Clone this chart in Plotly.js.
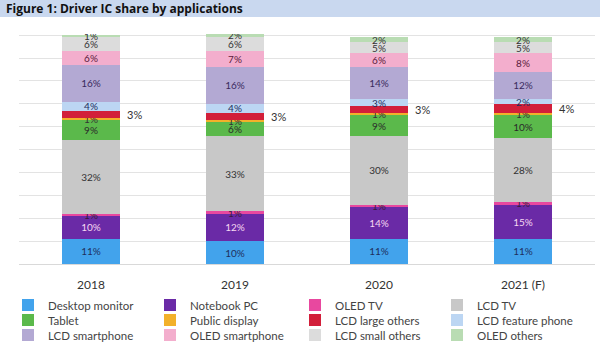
<!DOCTYPE html>
<html>
<head>
<meta charset="utf-8">
<script src="https://cdn.plot.ly/plotly-3.0.1.min.js"></script>
<style>html,body{margin:0;padding:0;background:#fff;}#chart{width:600px;height:351px;}</style>
</head>
<body>
<div id="chart"></div>
<script>
const years = ['2018', '2019', '2020', '2021 (F)'];
const seriesNames = ['Desktop monitor', 'Notebook PC', 'OLED TV', 'LCD TV',
  'Tablet', 'Public display', 'LCD large others', 'LCD feature phone',
  'LCD smartphone', 'OLED smartphone', 'LCD small others', 'OLED others'];
const desktopMonitor   = [11, 10, 11, 11];
const notebookPC       = [10, 12, 14, 15];
const oledTV           = [1, 1, 1, 1];
const lcdTV            = [32, 33, 30, 28];
const tablet           = [9, 6, 9, 10];
const publicDisplay    = [1, 1, 1, 1];
const lcdLargeOthers   = [3, 3, 3, 4];
const lcdFeaturePhone  = [4, 4, 3, 2];
const lcdSmartphone    = [16, 16, 14, 12];
const oledSmartphone   = [6, 7, 6, 8];
const lcdSmallOthers   = [6, 6, 5, 5];
const oledOthers       = [1, 2, 2, 2];

const seriesValues = [desktopMonitor, notebookPC, oledTV, lcdTV, tablet, publicDisplay,
  lcdLargeOthers, lcdFeaturePhone, lcdSmartphone, oledSmartphone, lcdSmallOthers, oledOthers];
const colors = ['#42a3ec', '#6a2aa6', '#e8489f', '#c8c8c8', '#5bb94b', '#f2b12a',
  '#d21f3a', '#bcd6f3', '#b3a9d3', '#f3aecd', '#dcdcdc', '#b9dcb3'];
const textColors = ['#1f2f5e', '#f6d8f2', '#3a1a3a', '#333333', '#2a2a2a', '#333333',
  '#333333', '#1f2f5e', '#3a2a5e', '#5a1a3a', '#333333', '#333333'];

const FONT = 'Lato, "Open Sans", sans-serif';
const legendIds = seriesNames.map((n, i) => i === 0 ? 'legend' : 'legend' + (i + 1));

const traces = seriesValues.map((vals, i) => ({
  type: 'bar',
  name: seriesNames[i],
  x: years,
  y: vals,
  marker: {color: colors[i], line: {width: 0}},
  text: i === 6 ? vals.map(() => '') : vals.map(v => v + '%'),
  textposition: 'inside',
  insidetextanchor: 'middle',
  constraintext: 'none',
  textangle: 0,
  textfont: {family: FONT, size: 10, color: textColors[i]},
  hoverinfo: 'skip',
  legend: legendIds[i],
  showlegend: true
}));

// outside labels for LCD large others (x given as category index)
const annotations = years.map((yr, j) => {
  let base = 0;
  for (let k = 0; k < 6; k++) base += seriesValues[k][j];
  return {
    x: j, y: base + lcdLargeOthers[j] / 2, xref: 'x', yref: 'y',
    text: lcdLargeOthers[j] + '%', showarrow: false, xshift: 43,
    font: {family: FONT, size: 11, color: '#333'}
  };
});

const W = 600, H = 351, L = 19, R = 5, T = 34, B = 87;
const pw = W - L - R, ph = H - T - B;
const px2x = p => (p - L) / pw;
const py2y = p => (H - B - p) / ph;

const legendXs = [48, 190, 335, 477];
const legendYs = [305, 320, 335];
const layout = {
  width: W, height: H,
  margin: {l: L, r: R, t: T, b: B, autoexpand: false},
  paper_bgcolor: '#ffffff', plot_bgcolor: '#ffffff',
  barmode: 'stack', bargap: 0.6,
  font: {family: FONT, color: '#333'},
  title: {
    text: '<b>Figure 1: Driver IC share by applications</b>',
    x: 6 / W, xanchor: 'left', y: 1 - 9 / H, yanchor: 'middle',
    font: {family: '"Open Sans", Lato, sans-serif', size: 12, color: '#111'}
  },
  xaxis: {
    type: 'category', showgrid: false, showline: true, linecolor: '#d9d9d9', linewidth: 1,
    ticks: 'outside', ticklen: 10, tickcolor: 'rgba(0,0,0,0)',
    tickfont: {family: FONT, size: 12, color: '#333'}, fixedrange: true,
    automargin: false
  },
  yaxis: {
    range: [0, 100.5], dtick: 10, showgrid: true, gridcolor: '#e3e3e3', gridwidth: 1,
    showticklabels: false, zeroline: false, showline: false, fixedrange: true,
    automargin: false
  },
  shapes: [{
    type: 'rect', xref: 'paper', yref: 'paper',
    x0: px2x(0), x1: px2x(600), y0: py2y(17), y1: py2y(0),
    fillcolor: '#c9d8ef', line: {width: 0}, layer: 'below'
  }],
  annotations: annotations,
  showlegend: true
};
legendIds.forEach((id, i) => {
  const col = i % 4, row = Math.floor(i / 4);
  layout[id] = {
    orientation: 'v', bgcolor: 'rgba(0,0,0,0)', borderwidth: 0,
    font: {family: FONT, size: 11.5, color: '#444'},
    x: px2x(legendXs[col] - 40), xanchor: 'left',
    y: py2y(legendYs[row]), yanchor: 'middle',
    itemclick: false
  };
});

Plotly.newPlot('chart', traces, layout, {displayModeBar: false, staticPlot: true});
</script>
</body>
</html>
